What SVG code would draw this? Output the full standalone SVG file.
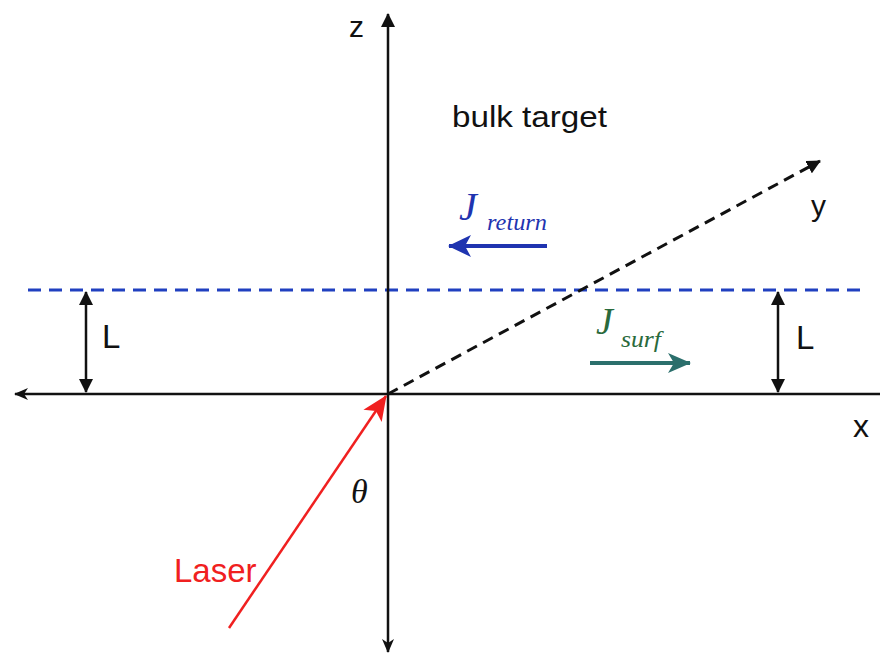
<svg xmlns="http://www.w3.org/2000/svg" width="880" height="655" viewBox="0 0 880 655">
<style>
.ax{stroke:#111;stroke-width:2.5;fill:none}
.sans{font-family:"Liberation Sans",Arial,sans-serif;fill:#111}
.ser{font-family:"Liberation Serif","Times New Roman",serif;font-style:italic}
</style>
<defs>
<marker id="tri" markerWidth="14" markerHeight="14" refX="13" refY="7" orient="auto-start-reverse" markerUnits="userSpaceOnUse"><path d="M0,0 L14,7 L0,14 z" fill="#111"/></marker>
<marker id="stealth" markerWidth="14" markerHeight="14" refX="13" refY="7" orient="auto" markerUnits="userSpaceOnUse"><path d="M0,1 L14,7 L0,13 L4,7 z" fill="#111"/></marker>
<marker id="blueHead" markerWidth="24" markerHeight="24" refX="22" refY="12" orient="auto" markerUnits="userSpaceOnUse"><path d="M0,1 L23,12 L0,23 L6,12 z" fill="#1f34b0"/></marker>
<marker id="tealHead" markerWidth="24" markerHeight="22" refX="22" refY="11" orient="auto" markerUnits="userSpaceOnUse"><path d="M0,1 L23,11 L0,21 L6,11 z" fill="#2b6f6c"/></marker>
<marker id="redHead" markerWidth="26" markerHeight="24" refX="24" refY="12" orient="auto" markerUnits="userSpaceOnUse"><path d="M0,1 L25,12 L0,23 L6,12 z" fill="#f02020"/></marker>
</defs>
<rect width="880" height="655" fill="#fff"/>
<g id="connectors">
<line id="blue-dash" x1="28" y1="290" x2="864" y2="290" stroke="#2040c0" stroke-width="3" stroke-dasharray="13 8"/>
<line id="x-axis" class="ax" x1="880" y1="394" x2="15" y2="394" marker-end="url(#stealth)"/>
<line id="z-axis-up" class="ax" x1="388" y1="394" x2="388" y2="14" marker-end="url(#tri)"/>
<line id="z-axis-down" class="ax" x1="388" y1="394" x2="388" y2="652" marker-end="url(#stealth)"/>
<line id="y-axis" x1="388" y1="394" x2="820" y2="161" stroke="#111" stroke-width="3" stroke-dasharray="11 7" marker-end="url(#tri)"/>
<line id="L-left" class="ax" x1="86" y1="292" x2="86" y2="392" marker-start="url(#tri)" marker-end="url(#tri)"/>
<line id="L-right" class="ax" x1="778" y1="292" x2="778" y2="392" marker-start="url(#tri)" marker-end="url(#tri)"/>
<line id="J-return-arrow" x1="547" y1="246" x2="449" y2="246" stroke="#1f34b0" stroke-width="4" marker-end="url(#blueHead)"/>
<line id="J-surf-arrow" x1="590" y1="363" x2="690" y2="363" stroke="#2b6f6c" stroke-width="4" marker-end="url(#tealHead)"/>
<line id="laser-arrow" x1="229" y1="628" x2="386" y2="396" stroke="#f02020" stroke-width="2.5" marker-end="url(#redHead)"/>
</g>
<g id="label-z"><text class="sans" x="349" y="37" font-size="30">z</text></g>
<g id="label-bulk"><text class="sans" x="452" y="127" font-size="30" textLength="155" lengthAdjust="spacingAndGlyphs">bulk target</text></g>
<g id="label-y"><text class="sans" x="811" y="216" font-size="30">y</text></g>
<g id="label-x"><text class="sans" x="853" y="437" font-size="32">x</text></g>
<g id="label-L-left"><text class="sans" x="102" y="348" font-size="33">L</text></g>
<g id="label-L-right"><text class="sans" x="796" y="349" font-size="33">L</text></g>
<g id="label-laser"><text class="sans" x="174" y="582" font-size="33" style="fill:#f02020">Laser</text></g>
<g id="label-theta"><text class="ser" x="351" y="503" font-size="34" fill="#111">θ</text></g>
<g id="label-J-return">
<text class="ser" x="459" y="220" font-size="40" fill="#1f34b0">J</text>
<text class="ser" x="487" y="230" font-size="23" fill="#1f34b0" textLength="60" lengthAdjust="spacingAndGlyphs">return</text>
</g>
<g id="label-J-surf">
<text class="ser" x="596" y="334" font-size="38" fill="#2a6a3c">J</text>
<text class="ser" x="621" y="347" font-size="23" fill="#2a6a3c" textLength="40" lengthAdjust="spacingAndGlyphs">surf</text>
</g>
</svg>
